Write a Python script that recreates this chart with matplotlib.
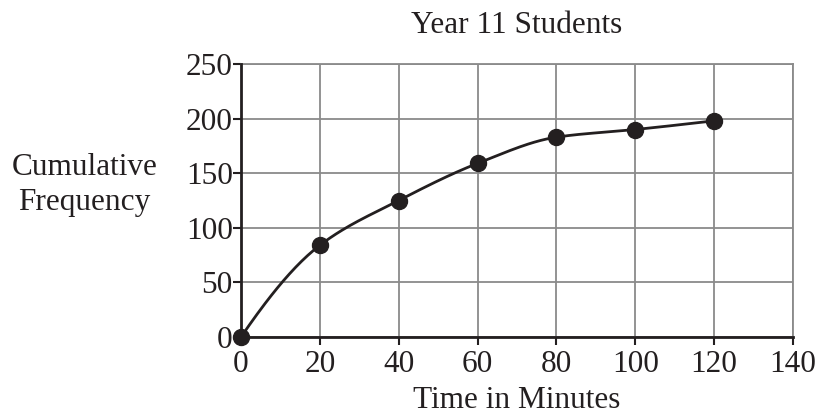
import numpy as np
import matplotlib
matplotlib.use("Agg")
import matplotlib.pyplot as plt

minutes = [0, 20, 40, 60, 80, 100, 120]
cum_freq = [0, 84, 125, 159, 183, 190, 198]
x_ticks = [0, 20, 40, 60, 80, 100, 120, 140]
y_ticks = [0, 50, 100, 150, 200, 250]


def smooth_curve(x, y, n=40):
    # monotone cubic (pchip-style) through the points
    x = np.asarray(x, float)
    y = np.asarray(y, float)
    h = np.diff(x)
    d = np.diff(y) / h
    m = np.zeros_like(y)
    for k in range(1, len(x) - 1):
        if d[k - 1] * d[k] > 0:
            w1 = 2 * h[k] + h[k - 1]
            w2 = h[k] + 2 * h[k - 1]
            m[k] = (w1 + w2) / (w1 / d[k - 1] + w2 / d[k])
    m[0] = ((2 * h[0] + h[1]) * d[0] - h[0] * d[1]) / (h[0] + h[1])
    m[-1] = ((2 * h[-1] + h[-2]) * d[-1] - h[-1] * d[-2]) / (h[-1] + h[-2])
    xs, ys = [], []
    t = np.linspace(0, 1, n)
    for k in range(len(x) - 1):
        h00 = 2 * t ** 3 - 3 * t ** 2 + 1
        h10 = t ** 3 - 2 * t ** 2 + t
        h01 = -2 * t ** 3 + 3 * t ** 2
        h11 = t ** 3 - t ** 2
        xs.extend(x[k] + t * h[k])
        ys.extend(h00 * y[k] + h10 * h[k] * m[k] + h01 * y[k + 1] + h11 * h[k] * m[k + 1])
    return np.array(xs), np.array(ys)


plt.rcParams["font.family"] = ["Liberation Serif", "DejaVu Serif"]

fig = plt.figure(figsize=(8.18, 4.17), dpi=100)
ax = fig.add_axes([0.2946, 0.1918, 0.6748, 0.6547])

cx, cy = smooth_curve(minutes, cum_freq)
ax.plot(cx, cy, color="#231f20", lw=2.0, zorder=3, clip_on=False)
ax.plot(minutes, cum_freq, "o", color="#231f20", ms=11.5, zorder=4, clip_on=False)

ax.set_xlim(0, 140)
ax.set_ylim(0, 250)
ax.set_xticks(x_ticks)
ax.set_yticks(y_ticks)
ax.grid(True, color="#8a8a8a", lw=1.3)
ax.set_axisbelow(True)

for side in ("top", "right"):
    ax.spines[side].set_color("#8a8a8a")
    ax.spines[side].set_linewidth(1.3)
for side in ("left", "bottom"):
    ax.spines[side].set_color("#231f20")
    ax.spines[side].set_linewidth(2.0)
    ax.spines[side].set_zorder(5)

ax.tick_params(axis="both", direction="out", length=5.5, width=1.5,
               color="#231f20", labelsize=22.5, labelcolor="#231f20")
ax.tick_params(axis="x", pad=4)
ax.tick_params(axis="y", pad=0.5)

ax.set_title("Year 11 Students", fontsize=22.5, color="#231f20", pad=22)
ax.set_xlabel("Time in Minutes", fontsize=22.5, color="#231f20", labelpad=5)
fig.text(0.103, 0.556, "Cumulative\nFrequency", ha="center", va="center",
         fontsize=22.5, color="#231f20", linespacing=1.3)

fig.savefig("out.png", dpi=100)
